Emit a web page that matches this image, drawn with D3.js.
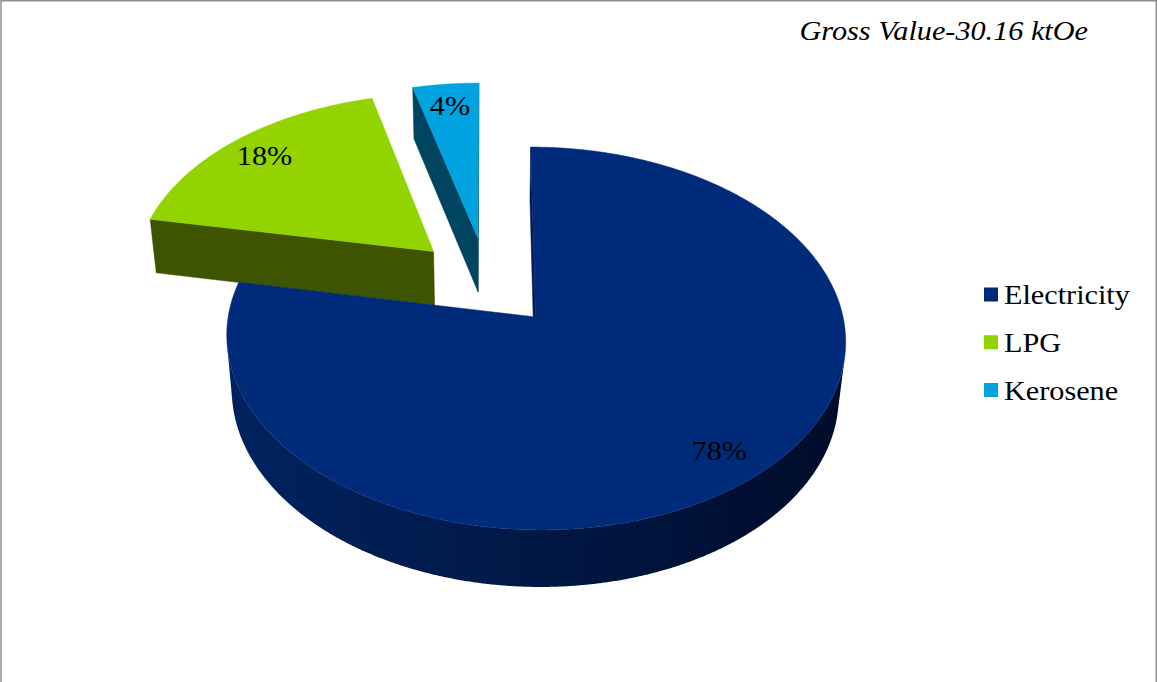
<!DOCTYPE html>
<html>
<head>
<meta charset="utf-8">
<script src="https://cdn.jsdelivr.net/npm/d3@7"></script>
<style>
  html, body { margin: 0; padding: 0; background: #ffffff; }
  svg { display: block; }
</style>
</head>
<body>
<svg id="chart" width="1157" height="682"></svg>
<script>
// ---- data ----
const categories = ["Electricity", "LPG", "Kerosene"];
const shares = [78, 18, 4];                      // percent of gross value
const titleText = "Gross Value-30.16 ktOe";

// ---- colours ----
const topColors = ["#002a7a", "#93d400", "#00a2e0"];
const wallColors = ["#001b50", "#3e5400", "#00445f"];
const rimGradient = ["#00235f", "#001845", "#000c2b"];
const legendColors = ["#00287a", "#8fd400", "#00a2e0"];

const W = 1157, H = 682;
const svg = d3.select("#chart");
const defs = svg.append("defs");

svg.append("rect").attr("width", W).attr("height", H).attr("fill", "#ffffff");

// ---- 3D perspective view of a unit-radius pie ----
const view = {
  cx: 487, cy: 281.6,      // screen point of the pie centre
  scale: 301,              // pixels per unit radius
  tilt: 37 * Math.PI / 180,
  dist: 7.26,              // camera distance, in radii
  depth: 0.2305,           // slab thickness, in radii
  explode: 0.248,          // explosion of every slice, in radii
  labelR: 0.85
};
const sinT = Math.sin(view.tilt), cosT = Math.cos(view.tilt);
const camera = [0, -view.dist * cosT, view.dist * sinT];

function project(p) {
  const [x, y, h] = p;
  const yc = y * sinT + h * cosT;
  const zc = y * cosT - h * sinT;
  const w = 1 + zc / view.dist;
  return [view.cx + view.scale * x / w, view.cy - view.scale * yc / w];
}
function depthOf(p) { return p[1] * cosT - p[2] * sinT; }
function faces(n, p) {
  return n[0] * (camera[0] - p[0]) + n[1] * (camera[1] - p[1]) + n[2] * (camera[2] - p[2]) > 0;
}

const pie = d3.pie().sort(null).value(d => d.value).startAngle(0).endAngle(2 * Math.PI);
const slices = pie(categories.map((name, i) => ({ name, value: shares[i], i })));
const total = d3.sum(shares);
const pct = d3.format(".0%");

const line = d3.line().curve(d3.curveLinearClosed);
const step = Math.PI / 720;

slices.forEach(s => {
  s.mid = (s.startAngle + s.endAngle) / 2;
  s.off = [view.explode * Math.sin(s.mid), view.explode * Math.cos(s.mid)];
  s.pt = (a, r, h) => [s.off[0] + r * Math.sin(a), s.off[1] + r * Math.cos(a), h];
  s.z = depthOf(s.pt(s.mid, 0.5, 0));
});

// far slices first
const order = slices.slice().sort((a, b) => b.z - a.z);
const pieG = svg.append("g").attr("class", "pie3d");

order.forEach(s => {
  const i = s.data.i;
  const g = pieG.append("g").attr("class", "slice");
  const a0 = s.startAngle, a1 = s.endAngle, d = view.depth;
  const apexTop = [s.off[0], s.off[1], 0], apexBot = [s.off[0], s.off[1], -d];

  // radial walls
  const walls = [
    { a: a0, n: [-Math.cos(a0), Math.sin(a0), 0] },
    { a: a1, n: [Math.cos(a1), -Math.sin(a1), 0] }
  ];
  walls.forEach(wl => {
    const mid = s.pt(wl.a, 0.5, -d / 2);
    if (!faces(wl.n, mid)) return;
    const poly = [apexTop, s.pt(wl.a, 1, 0), s.pt(wl.a, 1, -d), apexBot].map(project);
    g.append("path").attr("d", line(poly)).attr("fill", wallColors[i])
      .attr("stroke", wallColors[i]).attr("stroke-width", 0.5);
  });

  // outer rim: visible runs only
  const n = Math.max(2, Math.ceil((a1 - a0) / step));
  const runs = [];
  let cur = null;
  for (let k = 0; k <= n; k++) {
    const a = a0 + (a1 - a0) * k / n;
    const vis = faces([Math.sin(a), Math.cos(a), 0], s.pt(a, 1, -d / 2));
    if (vis) { if (!cur) { cur = []; runs.push(cur); } cur.push(a); }
    else cur = null;
  }
  runs.forEach((run, ri) => {
    if (run.length < 2) return;
    const topPts = run.map(a => project(s.pt(a, 1, 0)));
    const botPts = run.map(a => project(s.pt(a, 1, -d))).reverse();
    const poly = topPts.concat(botPts);
    const xs = poly.map(p => p[0]);
    const gid = `rim-${i}-${ri}`;
    const base = d3.color(wallColors[i]);
    const stops = i === 0 ? rimGradient
      : [base.brighter(0.3).formatHex(), base.formatHex(), base.darker(0.6).formatHex()];
    const grad = defs.append("linearGradient").attr("id", gid)
      .attr("gradientUnits", "userSpaceOnUse")
      .attr("x1", d3.min(xs)).attr("x2", d3.max(xs)).attr("y1", 0).attr("y2", 0);
    stops.forEach((c, k) => grad.append("stop")
      .attr("offset", k / (stops.length - 1)).attr("stop-color", c));
    g.append("path").attr("d", line(poly)).attr("fill", `url(#${gid})`);
  });

  // top face
  const topPoly = [project(apexTop)];
  for (let k = 0; k <= n; k++) {
    const a = a0 + (a1 - a0) * k / n;
    topPoly.push(project(s.pt(a, 1, 0)));
  }
  g.append("path").attr("d", line(topPoly)).attr("fill", topColors[i])
    .attr("stroke", topColors[i]).attr("stroke-width", 0.5);
});

// ---- text helper (Times-like serif, slightly widened) ----
const textStretch = 1.08;
function stretchedText(parent, x, y, str, opts) {
  const t = parent.append("text")
    .attr("transform", `translate(${x},${y}) scale(${textStretch},1)`)
    .attr("font-family", "'Liberation Serif', 'Times New Roman', serif")
    .attr("font-size", opts.size)
    .attr("fill", "#000000")
    .attr("text-anchor", opts.anchor || "start")
    .attr("dominant-baseline", opts.baseline || "alphabetic")
    .text(str);
  if (opts.italic) t.attr("font-style", "italic");
  return t;
}

// ---- percentage labels ----
const labelG = svg.append("g").attr("class", "labels");
slices.forEach(s => {
  const [x, y] = project(s.pt(s.mid, view.labelR, 0));
  stretchedText(labelG, x, y, pct(s.data.value / total),
    { size: 28, anchor: "middle", baseline: "central" });
});

// ---- title ----
stretchedText(svg, 1088, 40, titleText, { size: 28, anchor: "end", italic: true });

// ---- legend ----
const legend = svg.append("g").attr("class", "legend");
const rowY = d3.scalePoint().domain(categories).range([294.5, 390]);
categories.forEach((c, i) => {
  const y = rowY(c);
  legend.append("rect").attr("x", 984).attr("y", y - 7).attr("width", 14).attr("height", 14)
    .attr("fill", legendColors[i]);
  stretchedText(legend, 1004, y + 9.5, c, { size: 28 });
});

// ---- frame ----
svg.append("rect").attr("x", 1).attr("y", 0.75).attr("width", W - 1.75).attr("height", H + 20)
  .attr("fill", "none").attr("stroke", "#8e8e8e").attr("stroke-width", 1.5);
</script>
</body>
</html>
